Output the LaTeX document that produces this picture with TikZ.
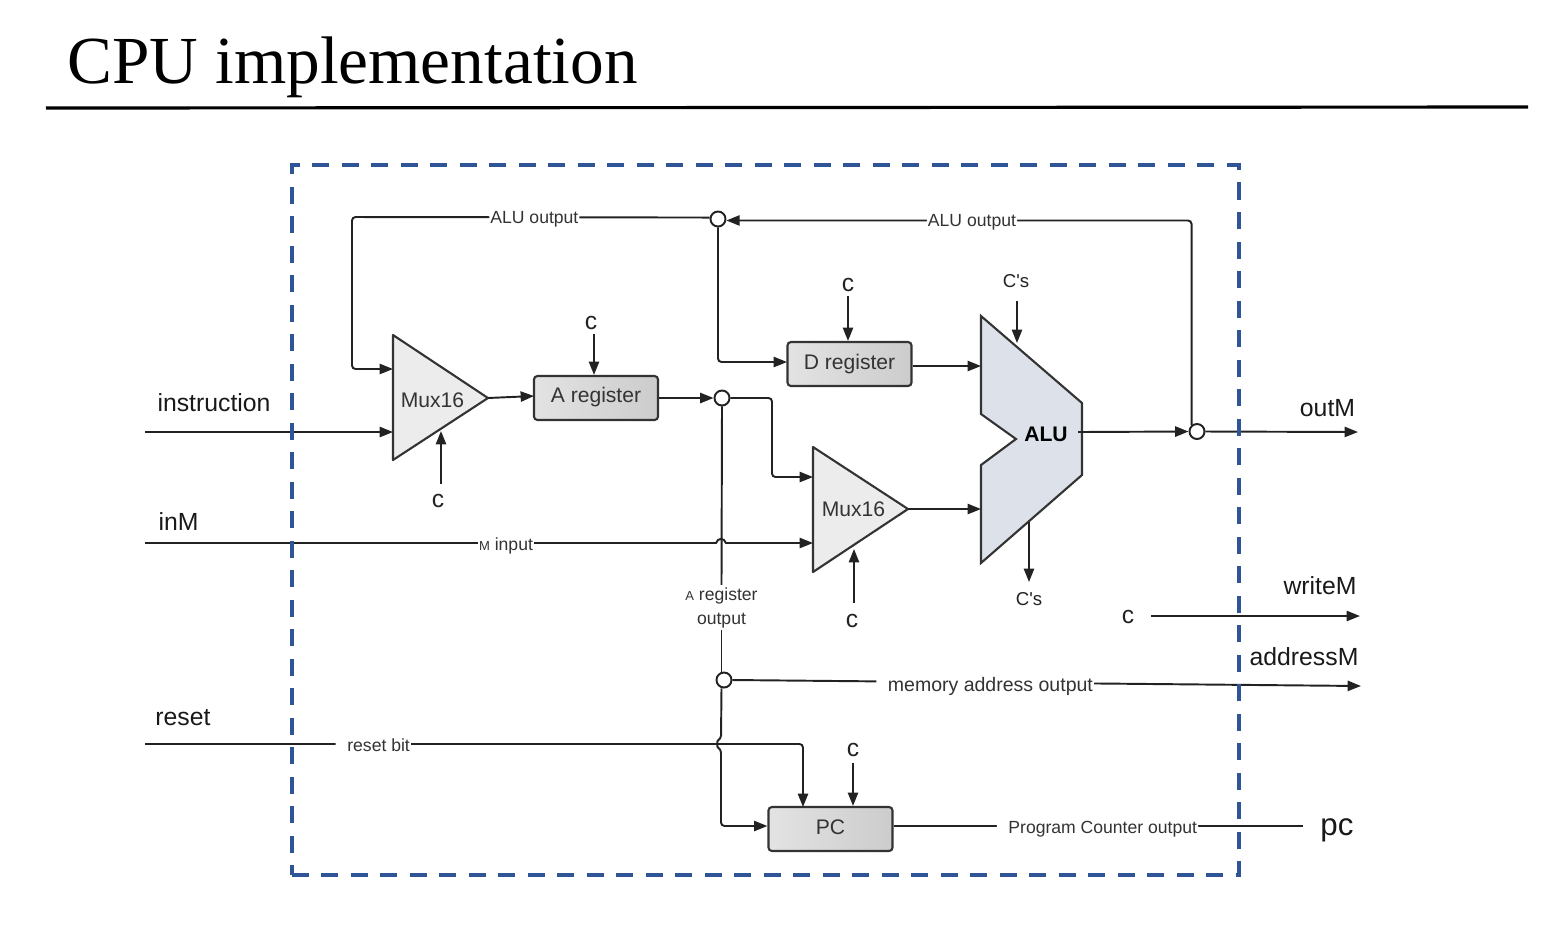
\documentclass[tikz,border=0pt]{standalone}
\usepackage{fontspec}
\setmainfont{Liberation Serif}
\setsansfont{Liberation Sans}
\usetikzlibrary{arrows.meta,positioning}
\definecolor{framecol}{HTML}{2F5597}
\definecolor{linecol}{HTML}{222222}
\definecolor{textcol}{HTML}{333333}
\definecolor{alucol}{HTML}{DDE2EA}
\newcommand{\tinyletter}[1]{{\fontsize{3.7}{4}\selectfont #1}}
\tikzset{
    sig/.style={draw=linecol, line width=0.55pt, rounded corners=1pt},
    sigarrow/.style={sig, -{Triangle[length=3.8pt,width=2.9pt]}},
    outer/.style={font=\fontsize{7.05}{8}\selectfont\sffamily, text=black!90, inner sep=0pt},
    wirelabel/.style={font=\fontsize{5}{6.5}\selectfont\sffamily, text=textcol, fill=white, inner xsep=0.3pt, inner ysep=0.5pt, text height=4pt, text depth=0.6pt, align=center},
    ctrl/.style={font=\fontsize{7}{8}\selectfont\sffamily, text=linecol, inner sep=0pt},
    ctrlalu/.style={font=\fontsize{5.3}{6}\selectfont\sffamily, text=linecol, inner sep=0pt},
    regbox/.style={draw=textcol, line width=0.6pt, rounded corners=1pt, left color=gray!22, right color=gray!40, minimum width=1.24cm, minimum height=0.44cm},
    mux/.style={draw=textcol, line width=0.6pt, fill=gray!15, line join=round},
    blocktext/.style={font=\fontsize{6}{7}\selectfont\sffamily, text=textcol, inner sep=0pt},
    junction/.style={circle, draw=linecol, line width=0.55pt, fill=white, inner sep=0pt, minimum size=0.15cm},
}
\begin{document}
\begin{tikzpicture}[x=0.01cm, y=-0.01cm]
\useasboundingbox (0,0) rectangle (1544,938);
% title
\node[anchor=west, inner sep=0pt, font=\fontsize{19.13}{22}\selectfont] (title) at (67,67) {CPU implementation};
\coordinate (rule_l) at (46,108);
\coordinate (rule_r) at (1528,107);
\draw[line width=0.9pt] (rule_l) -- (rule_r);
% blocks
\path[mux] (393,335) -- (488,398) -- (393,460) -- cycle;
\node[blocktext] (muxA) at (432.5,400) {Mux16};
\path[mux] (813,447) -- (908,509) -- (813,572) -- cycle;
\node[blocktext] (muxB) at (853.5,509) {Mux16};
\node[regbox] (regA) at (596,398) {};
\node[blocktext] (regA_t) at (596,397) {A register};
\node[regbox] (regD) at (849.5,364) {};
\node[blocktext] (regD_t) at (849.5,364) {D register};
\node[regbox] (regPC) at (830.5,829) {};
\node[blocktext] (regPC_t) at (830.5,827) {PC};
\path[draw=textcol, line width=0.6pt, fill=alucol, line join=miter] (981,316) -- (1082,403) -- (1082,475) -- (981,563) -- (981,465) -- (1016,439) -- (981,414) -- cycle;
\node[blocktext, font=\fontsize{6}{7}\selectfont\sffamily\bfseries, text=black] (alu) at (1046,434) {ALU};
% junctions
\node[junction] (jnTop) at (718,219) {};
\node[junction] (jnA) at (722,398) {};
\node[junction] (jnOut) at (1197,431.5) {};
\node[junction] (jnMem) at (724,680) {};
% mux A side
\coordinate (instr_in) at (145,432);
\coordinate (muxA_in1) at (393,369);
\coordinate (muxA_in2) at (393,432);
\coordinate (muxA_out) at (488,398);
\coordinate (regA_in) at (534,396);
\node[outer] (instr) at (214,403) {instruction};
\draw[sigarrow] (instr_in) -- (muxA_in2);
\draw[sigarrow] (jnTop.170) -- (352,217) node[wirelabel, pos=0.49] (alu_fb1) {ALU output} -- (352,369) -- (muxA_in1);
\draw[sigarrow] (muxA_out) -- (regA_in);
\draw[sigarrow] (regA.east) -- (jnA.west);
% D register
\coordinate (regD_in) at (787,362);
\draw[sigarrow] (jnTop.south) |- (regD_in);
\coordinate (alu_in1) at (981,366);
\draw[sigarrow] (regD.east |- alu_in1) -- (alu_in1);
% mux B side
\coordinate (muxB_in1) at (813,477);
\coordinate (muxB_in2) at (813,543);
\coordinate (muxB_out) at (908,509);
\coordinate (alu_in2) at (981,509);
\draw[sigarrow] (jnA.east) -- (772,398) -- (772,477) -- (muxB_in1);
\draw[sigarrow] (muxB_out) -- (alu_in2);
\node[outer] (inM) at (178.5,522) {inM};
\coordinate (inM_in) at (145,543);
\draw[sigarrow, rounded corners=0pt] (inM_in) -- (506,543) node[wirelabel, pos=1, yshift=-0.4pt] (m_input) {\tinyletter{M} input} -- (716,543) .. controls (718,537.5) and (724,537.5) .. (726,543) -- (muxB_in2);
% ALU output
\coordinate (alu_out) at (1078,432);
\coordinate (outM_end) at (1358,432);
\draw[sigarrow] (alu_out) -- (jnOut.west);
\draw[sigarrow] (jnOut.east) -- (outM_end);
\node[outer] (outM) at (1327.5,408) {outM};
\draw[sigarrow] (jnOut.130) |- node[wirelabel, pos=0.736] (alu_fb2) {ALU output} (jnTop.-10);
% A register output, memory address, PC
\coordinate (mem_end) at (1361,686);
\node[wirelabel, text height=, text depth=] (a_out) at (721.5,607.5) {\tinyletter{A} register\\[0.3pt]output};
\draw[sig] (jnA.south) -- (a_out.north);
\draw[sig] (a_out.south) -- (jnMem.north -| a_out.south);
\draw[sigarrow] (jnMem.east) -- (mem_end) node[wirelabel, pos=0.402, yshift=-0.9pt, font=\fontsize{5.55}{6.5}\selectfont\sffamily] (mem_lbl) {\hspace{3pt}memory address output};
\node[outer] (addressM) at (1304,657) {addressM};
\node[outer] (reset) at (183,718) {reset};
\coordinate (reset_in) at (145,744);
\coordinate (pc_in1) at (803,807);
\draw[sigarrow] (reset_in) -- (803,744) node[wirelabel, pos=0.347, yshift=-0.3pt] (reset_lbl) {\hspace{3pt}reset bit} -- (pc_in1);
\draw[sigarrow] (jnMem.south -| a_out.south) -- (721,739) .. controls (717,741) and (717,747) .. (721,749) -- (721,826) -- (regPC.west |- 721,826);
\coordinate (pc_end) at (1303,826);
\draw[sig] (regPC.east |- pc_end) -- (pc_end) node[wirelabel, pos=0.498, yshift=-0.3pt] (pc_lbl) {\hspace{3pt}Program Counter output};
\node[outer, font=\fontsize{8.9}{10}\selectfont\sffamily] (pc) at (1337,830) {pc};
% control bits
\node[ctrl] (cA) at (591,323) {c};
\coordinate (cA_s) at (594,334);
\draw[sigarrow] (cA_s) -- (cA_s |- regA.north);
\node[ctrl] (cD) at (848,285) {c};
\coordinate (cD_s) at (848,296);
\draw[sigarrow] (cD_s) -- (cD_s |- regD.north);
\node[ctrl] (cMuxA) at (438,501) {c};
\coordinate (cMuxA_s) at (441,484);
\coordinate (cMuxA_e) at (441,431);
\draw[sigarrow] (cMuxA_s) -- (cMuxA_e);
\node[ctrl] (cMuxB) at (852,621) {c};
\coordinate (cMuxB_s) at (854,603);
\coordinate (cMuxB_e) at (854,549);
\draw[sigarrow] (cMuxB_s) -- (cMuxB_e);
\node[ctrl] (cPC) at (853,750) {c};
\coordinate (cPC_s) at (853,763);
\draw[sigarrow] (cPC_s) -- (cPC_s |- regPC.north);
\node[ctrlalu] (csTop) at (1016,281) {C\textquotesingle s};
\coordinate (csTop_s) at (1017,301);
\coordinate (csTop_e) at (1017,343);
\draw[sigarrow] (csTop_s) -- (csTop_e);
\node[ctrlalu] (csBot) at (1029,599) {C\textquotesingle s};
\coordinate (csBot_s) at (1029,522);
\coordinate (csBot_e) at (1029,582);
\draw[sigarrow] (csBot_s) -- (csBot_e);
% writeM
\node[ctrl] (cWrite) at (1128,617) {c};
\coordinate (write_s) at (1151,616);
\coordinate (write_e) at (1360,616);
\draw[sigarrow] (write_s) -- (write_e);
\node[outer] (writeM) at (1320,586) {writeM};
% dashed frame
\node[draw=framecol, line width=1.15pt, dash pattern=on 4.84pt off 3.55pt, minimum width=9.47cm, minimum height=7.09cm, inner sep=0pt] (frame) at (765.5,520) {};
\end{tikzpicture}
\end{document}
